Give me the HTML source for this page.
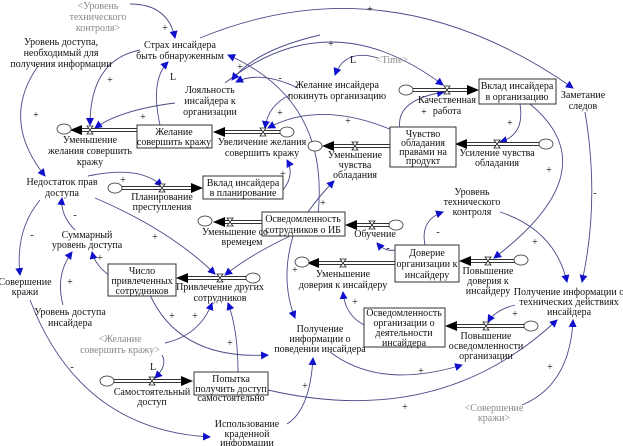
<!DOCTYPE html>
<html><head><meta charset="utf-8"><style>
html,body{margin:0;padding:0;background:#fff;}
svg{display:block;}
text{font-family:"Liberation Serif","DejaVu Serif",serif;font-size:10px;fill:#111;text-anchor:middle;}
.g{fill:#888;}
.s{font-size:9px;fill:#333;}
.c{fill:none;stroke:#4a4a88;stroke-width:0.9;}
.b{fill:#fff;stroke:#333;stroke-width:1;}
.po{stroke:#333;stroke-width:4;}
.pi{stroke:#fff;stroke-width:2;}
</style></head><body>
<svg width="623" height="446" viewBox="0 0 623 446" xmlns="http://www.w3.org/2000/svg">
<defs>
<marker id="a" markerWidth="8" markerHeight="8" refX="7" refY="4" orient="auto" markerUnits="userSpaceOnUse"><path d="M0,0 L8,4 L0,8 z" fill="#1010cc"/></marker>
</defs>

<g class="c" marker-end="url(#a)">
<path d="M130,4 Q168,4 175,38"/>
<path d="M200,38 Q390,-40 573,88"/>
<path d="M160,125 Q150,80 168,62"/>
<path d="M38,66 Q0,120 45,176"/>
<path d="M140,50 Q90,60 90,125"/>
<path d="M175,103 Q120,110 95,128"/>
<path d="M318,215 Q330,100 228,55"/>
<path d="M225,83 Q330,0 443,85"/>
<path d="M298,88 Q260,70 236,82"/>
<path d="M320,35 Q255,50 232,80"/>
<path d="M378,58 Q345,48 335,75"/>
<path d="M290,95 Q268,105 265,128"/>
<path d="M392,130 Q320,100 268,128"/>
<path d="M283,190 Q295,175 287,160"/>
<path d="M400,129 Q395,100 444,92"/>
<path d="M520,104 Q525,135 500,142"/>
<path d="M530,104 Q610,170 494,258"/>
<path d="M308,212 Q320,195 334,181"/>
<path d="M290,236 Q250,255 225,275"/>
<path d="M95,198 Q170,230 215,274"/>
<path d="M293,236 Q280,280 295,318"/>
<path d="M395,250 Q385,252 377,243"/>
<path d="M425,245 Q420,220 443,212"/>
<path d="M500,212 Q555,230 567,282"/>
<path d="M585,112 Q600,200 582,282"/>
<path d="M515,305 Q495,310 488,322"/>
<path d="M364,325 Q345,315 343,292"/>
<path d="M330,352 Q380,390 462,365"/>
<path d="M268,390 Q440,430 557,320"/>
<path d="M522,405 Q570,385 573,320"/>
<path d="M287,424 Q310,410 313,358"/>
<path d="M150,295 Q180,360 268,355"/>
<path d="M30,300 Q80,430 210,437"/>
<path d="M40,200 Q15,230 20,275"/>
<path d="M75,230 Q60,215 62,198"/>
<path d="M110,276 Q95,265 92,252"/>
<path d="M63,305 Q55,275 72,252"/>
<path d="M165,343 Q200,335 212,303"/>
<path d="M162,355 Q168,365 155,378"/>
<path d="M238,372 Q238,330 228,303"/>
<path d="M88,176 Q140,165 162,186"/>
</g>

<g class="s">
<text x="165" y="31">+</text><text x="370" y="12">+</text><text x="173" y="80">L</text>
<text x="36" y="118">+</text><text x="110" y="83">+</text><text x="143" y="120">+</text>
<text x="240" y="70">+</text><text x="280" y="81">-</text><text x="331" y="47">+</text>
<text x="353" y="63">L</text><text x="280" y="116">+</text><text x="348" y="124">+</text>
<text x="283" y="177">+</text><text x="424" y="115">+</text><text x="510" y="126">+</text>
<text x="549" y="173">+</text><text x="323" y="206">+</text><text x="250" y="248">-</text>
<text x="155" y="240">+</text><text x="295" y="273">+</text><text x="388" y="251">-</text>
<text x="438" y="235">-</text><text x="535" y="245">+</text><text x="595" y="196">-</text>
<text x="515" y="317">+</text><text x="355" y="305">+</text><text x="421" y="374">+</text>
<text x="405" y="410">+</text><text x="550" y="370">+</text><text x="305" y="389">+</text>
<text x="172" y="319">+</text><text x="72" y="370">-</text><text x="32" y="238">-</text>
<text x="75" y="218">-</text><text x="100" y="261">+</text><text x="70" y="285">+</text>
<text x="195" y="319">+</text><text x="153" y="370">L</text><text x="230" y="346">+</text>
<text x="123" y="183">+</text>
</g>

<g>
<line class="po" x1="137" y1="130" x2="80" y2="130"/><line class="pi" x1="137" y1="130" x2="80" y2="130"/>
<line class="po" x1="285" y1="132" x2="222" y2="132"/><line class="pi" x1="285" y1="132" x2="222" y2="132"/>
<line class="po" x1="117" y1="188" x2="194" y2="188"/><line class="pi" x1="117" y1="188" x2="194" y2="188"/>
<line class="po" x1="262" y1="222" x2="222" y2="222"/><line class="pi" x1="262" y1="222" x2="222" y2="222"/>
<line class="po" x1="395" y1="225" x2="354" y2="225"/><line class="pi" x1="395" y1="225" x2="354" y2="225"/>
<line class="po" x1="395" y1="263" x2="317" y2="263"/><line class="pi" x1="395" y1="263" x2="317" y2="263"/>
<line class="po" x1="520" y1="261" x2="468" y2="261"/><line class="pi" x1="520" y1="261" x2="468" y2="261"/>
<line class="po" x1="530" y1="326" x2="454" y2="326"/><line class="pi" x1="530" y1="326" x2="454" y2="326"/>
<line class="po" x1="408" y1="90" x2="470" y2="90"/><line class="pi" x1="408" y1="90" x2="470" y2="90"/>
<line class="po" x1="545" y1="144" x2="464" y2="144"/><line class="pi" x1="545" y1="144" x2="464" y2="144"/>
<line class="po" x1="392" y1="146" x2="332" y2="146"/><line class="pi" x1="392" y1="146" x2="332" y2="146"/>
<line class="po" x1="252" y1="278" x2="185" y2="278"/><line class="pi" x1="252" y1="278" x2="185" y2="278"/>
<line class="po" x1="108" y1="381" x2="184" y2="381"/><line class="pi" x1="108" y1="381" x2="184" y2="381"/>
</g>
<g fill="#000">
<path d="M70,130 l12,-5 v10 z"/>
<path d="M213,132 l12,-5 v10 z"/>
<path d="M203,188 l-12,-5 v10 z"/>
<path d="M213,222 l12,-5 v10 z"/>
<path d="M345,225 l12,-5 v10 z"/>
<path d="M307,263 l12,-5 v10 z"/>
<path d="M459,261 l12,-5 v10 z"/>
<path d="M445,326 l12,-5 v10 z"/>
<path d="M479,90 l-12,-5 v10 z"/>
<path d="M455,144 l12,-5 v10 z"/>
<path d="M322,146 l12,-5 v10 z"/>
<path d="M176,278 l12,-5 v10 z"/>
<path d="M193,381 l-12,-5 v10 z"/>
</g>
<g fill="#fff" stroke="#222" stroke-width="0.8">
<path d="M87,126 h6 l-6,8 h6 z"/><path d="M260,128 h6 l-6,8 h6 z"/>
<path d="M159,184 h6 l-6,8 h6 z"/><path d="M227,218 h6 l-6,8 h6 z"/>
<path d="M369,221 h6 l-6,8 h6 z"/><path d="M340,259 h6 l-6,8 h6 z"/>
<path d="M485,257 h6 l-6,8 h6 z"/><path d="M483,322 h6 l-6,8 h6 z"/>
<path d="M444,86 h6 l-6,8 h6 z"/><path d="M494,140 h6 l-6,8 h6 z"/>
<path d="M352,142 h6 l-6,8 h6 z"/><path d="M217,274 h6 l-6,8 h6 z"/>
<path d="M149,377 h6 l-6,8 h6 z"/>
</g>
<g fill="#fff" stroke="#333" stroke-width="0.8">
<ellipse cx="64" cy="129" rx="7" ry="5"/><ellipse cx="287" cy="132" rx="7" ry="5"/>
<ellipse cx="115" cy="188" rx="7" ry="5"/><ellipse cx="205" cy="221" rx="7" ry="5"/>
<ellipse cx="396" cy="225" rx="7" ry="5"/><ellipse cx="302" cy="262" rx="7" ry="5"/>
<ellipse cx="521" cy="260" rx="7" ry="5"/><ellipse cx="531" cy="326" rx="7" ry="5"/>
<ellipse cx="406" cy="90" rx="7" ry="5"/><ellipse cx="546" cy="144" rx="7" ry="5"/>
<ellipse cx="315" cy="146" rx="7" ry="5"/><ellipse cx="253" cy="278" rx="7" ry="5"/>
<ellipse cx="107" cy="381" rx="7" ry="5"/>
</g>

<rect class="b" x="137" y="125" width="75" height="23"/>
<rect class="b" x="203" y="176" width="80" height="23"/>
<rect class="b" x="262" y="212" width="83" height="24"/>
<rect class="b" x="395" y="245" width="64" height="37"/>
<rect class="b" x="364" y="308" width="81" height="39"/>
<rect class="b" x="479" y="79" width="77" height="25"/>
<rect class="b" x="390" y="127" width="66" height="40"/>
<rect class="b" x="108" y="264" width="68" height="32"/>
<rect class="b" x="194" y="372" width="74" height="23"/>

<text class="g" x="98" y="9">&lt;Уровень</text><text class="g" x="98" y="20">технического</text><text class="g" x="98" y="31">контроля&gt;</text>
<text x="180" y="48">Страх инсайдера</text><text x="180" y="59">быть обнаруженным</text>
<text x="61" y="45">Уровень доступа,</text><text x="61" y="56">необходимый для</text><text x="61" y="67">получения информации</text>
<text x="210" y="93">Лояльность</text><text x="210" y="104">инсайдера к</text><text x="210" y="115">организации</text>
<text x="337" y="88">Желание инсайдера</text><text x="337" y="99">покинуть организацию</text>
<text class="g" x="392" y="63">&lt;Time&gt;</text>
<text x="174" y="135">Желание</text><text x="174" y="145">совершить кражу</text>
<text x="90" y="143">Уменьшение</text><text x="90" y="154">желания совершить</text><text x="90" y="165">кражу</text>
<text x="262" y="145">Увеличение желания</text><text x="262" y="156">совершить кражу</text>
<text x="243" y="186">Вклад инсайдера</text><text x="243" y="196">в планирование</text>
<text x="162" y="200">Планирование</text><text x="162" y="210">преступления</text>
<text x="62" y="185">Недостаток прав</text><text x="62" y="196">доступа</text>
<text x="303" y="222">Осведомленность</text><text x="303" y="233">сотрудников о ИБ</text>
<text x="235" y="235">Уменьшение со</text><text x="242" y="245">временем</text>
<text x="375" y="237">Обучение</text>
<text x="427" y="256">Доверие</text><text x="427" y="267">организации к</text><text x="427" y="278">инсайдеру</text>
<text x="343" y="277">Уменьшение</text><text x="343" y="288">доверия к инсайдеру</text>
<text x="488" y="274">Повышение</text><text x="488" y="284">доверия к</text><text x="488" y="294">инсайдеру</text>
<text x="404" y="316">Осведомленность</text><text x="404" y="326">организации о</text><text x="404" y="336">деятельности</text><text x="404" y="346">инсайдера</text>
<text x="486" y="339">Повышение</text><text x="486" y="349">осведомленности</text><text x="486" y="359">организации</text>
<text x="569" y="295">Получение информации о</text><text x="569" y="305">технических действиях</text><text x="569" y="315">инсайдера</text>
<text x="517" y="89">Вклад инсайдера</text><text x="517" y="100">в организацию</text>
<text x="447" y="103">Качественная</text><text x="447" y="114">работа</text>
<text x="583" y="98">Заметание</text><text x="583" y="109">следов</text>
<text x="423" y="137">Чувство</text><text x="423" y="146">обладания</text><text x="423" y="155">правами на</text><text x="423" y="164">продукт</text>
<text x="497" y="156">Усиление чувства</text><text x="497" y="166">обладания</text>
<text x="355" y="158">Уменьшение</text><text x="355" y="168">чувства</text><text x="355" y="178">обладания</text>
<text x="472" y="195">Уровень</text><text x="472" y="205">технического</text><text x="472" y="215">контроля</text>
<text x="87" y="238">Суммарный</text><text x="87" y="248">уровень доступа</text>
<text x="25" y="285">Совершение</text><text x="25" y="295">кражи</text>
<text x="142" y="274">Число</text><text x="142" y="284">привлеченных</text><text x="142" y="294">сотрудников</text>
<text x="220" y="290">Привлечение других</text><text x="220" y="301">сотрудников</text>
<text x="70" y="315">Уровень доступа</text><text x="70" y="326">инсайдера</text>
<text class="g" x="120" y="342">&lt;Желание</text><text class="g" x="120" y="353">совершить кражу&gt;</text>
<text x="152" y="395">Самостоятельный</text><text x="152" y="405">доступ</text>
<text x="231" y="382">Попытка</text><text x="231" y="392">получить доступ</text><text x="231" y="401">самостоятельно</text>
<text x="247" y="427">Использование</text><text x="247" y="437">краденной</text><text x="247" y="446">информации</text>
<text x="320" y="332">Получение</text><text x="320" y="342">информации о</text><text x="320" y="352">поведении инсайдера</text>
<text class="g" x="494" y="411">&lt;Совершение</text><text class="g" x="494" y="421">кражи&gt;</text>
</svg>
</body></html>
